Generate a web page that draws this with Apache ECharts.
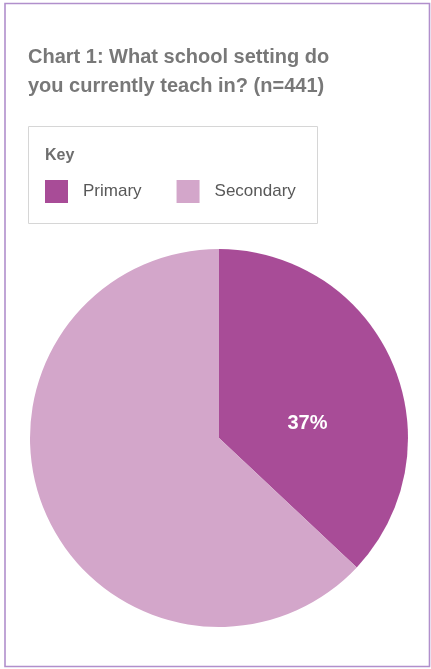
<!DOCTYPE html>
<html>
<head>
<meta charset="utf-8">
<script src="https://cdn.jsdelivr.net/npm/echarts@6/dist/echarts.min.js"></script>
<style>
  html, body { margin: 0; padding: 0; background: #ffffff; }
  #chart { width: 431px; height: 669px; }
</style>
</head>
<body>
<div id="chart"></div>
<script>
// School setting of respondents (n=441)
var categories = ['Primary', 'Secondary'];
var shares = [37, 63];
var colors = ['#a84c97', '#d3a6ca'];
var showLabel = [true, false];

var FONT = '"Liberation Sans", Arial, Helvetica, sans-serif';

var pieData = categories.map(function (name, i) {
  return {
    name: name,
    value: shares[i],
    itemStyle: { color: colors[i] },
    label: { show: showLabel[i] }
  };
});

var chart = echarts.init(document.getElementById('chart'), null, { renderer: 'canvas' });

chart.setOption({
  animation: false,
  backgroundColor: '#ffffff',
  title: {
    text: 'Chart 1: What school setting do\nyou currently teach in? (n=441)',
    left: 28,
    top: 43,
    padding: 0,
    textStyle: {
      fontFamily: FONT,
      fontSize: 20,
      fontWeight: 'bold',
      color: '#787878',
      lineHeight: 29
    }
  },
  graphic: [
    {
      type: 'rect',
      shape: { x: 5, y: 3.5, width: 424.5, height: 663 },
      style: { fill: 'none', stroke: '#b18fcc', lineWidth: 1.6 },
      silent: true
    },
    {
      type: 'rect',
      shape: { x: 28.5, y: 126.5, width: 289, height: 97 },
      style: { fill: 'none', stroke: '#d6d6d6', lineWidth: 1 },
      silent: true
    },
    {
      type: 'text',
      left: 45,
      top: 148,
      style: {
        text: 'Key',
        fontFamily: FONT,
        fontSize: 16,
        fontWeight: 'bold',
        fill: '#6e6e6e'
      },
      silent: true
    }
  ],
  legend: {
    data: categories,
    left: 45,
    top: 180,
    padding: 0,
    itemWidth: 23,
    itemHeight: 23,
    itemGap: 35,
    icon: 'rect',
    selectedMode: false,
    textStyle: {
      fontFamily: FONT,
      fontSize: 17,
      color: '#585858',
      padding: [0, 0, 0, 10]
    }
  },
  series: [
    {
      type: 'pie',
      center: [219, 438],
      radius: [0, 189],
      startAngle: 90,
      clockwise: true,
      avoidLabelOverlap: false,
      emphasis: { disabled: true },
      itemStyle: { borderWidth: 0 },
      labelLine: { show: false },
      label: {
        position: 'inside',
        formatter: '{c}%',
        offset: [-1, 24],
        fontFamily: FONT,
        fontSize: 20,
        fontWeight: 'bold',
        color: '#ffffff'
      },
      data: pieData
    }
  ]
});
</script>
</body>
</html>
